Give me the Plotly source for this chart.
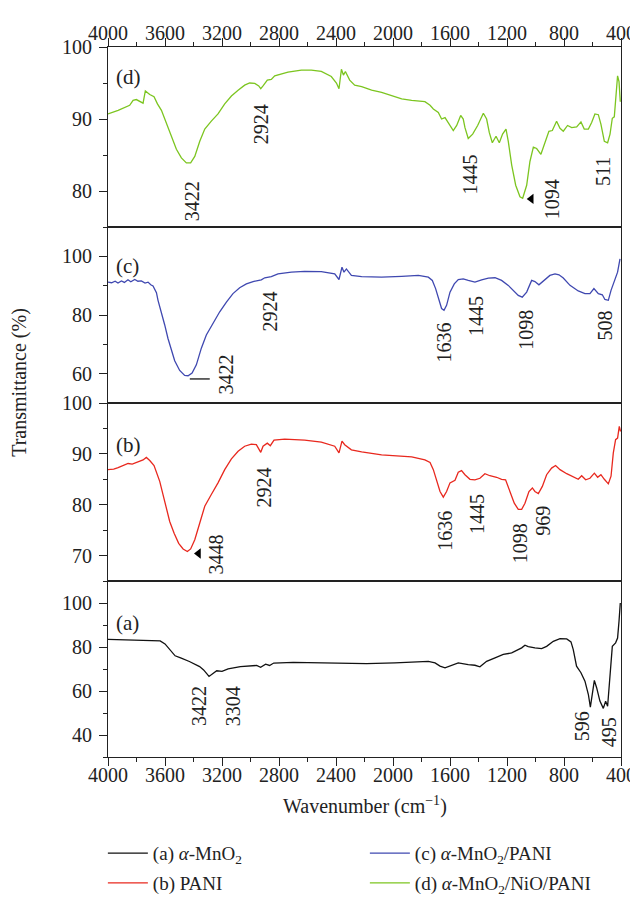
import plotly.graph_objects as go
from plotly.subplots import make_subplots

# ---------------- data ----------------
wn_d = [4000, 3929, 3848, 3824, 3801, 3777, 3754, 3738, 3707, 3677, 3653, 3625, 3590, 3555, 3520, 3485, 3450, 3420,
        3391, 3356, 3321, 3275, 3228, 3181, 3134, 3087, 3041, 3006, 2970, 2942, 2928, 2912, 2882, 2854, 2830, 2737,
        2643, 2573, 2503, 2433, 2397, 2379, 2362, 2348, 2334, 2304, 2269, 2220, 2150, 2080, 2009, 1939, 1869, 1776,
        1740, 1717, 1682, 1659, 1635, 1607, 1577, 1553, 1525, 1507, 1495, 1472, 1441, 1406, 1366, 1343, 1324, 1303,
        1277, 1254, 1231, 1207, 1191, 1167, 1139, 1109, 1090, 1062, 1039, 1015, 992, 962, 934, 906, 882, 852, 828,
        805, 775, 746, 711, 681, 658, 629, 606, 583, 559, 541, 517, 494, 477, 461, 447, 435, 424, 414, 405]
t_d = [90.7, 91.2, 91.9, 92.6, 92.7, 92.5, 92.2, 93.9, 93.4, 93.1, 92.1, 91.2, 89.3, 87.4, 85.8, 84.6, 83.9, 83.9,
       84.8, 86.9, 88.6, 89.7, 90.7, 92.1, 93.2, 94.0, 94.7, 95.0, 94.95, 94.6, 94.2, 94.6, 95.4, 95.5, 96.0, 96.5,
       96.8, 96.8, 96.6, 95.9, 95.0, 94.2, 96.9, 96.1, 96.6, 95.4, 94.7, 94.5, 94.0, 93.7, 93.3, 92.8, 92.6, 92.4,
       91.9, 91.4, 90.9, 90.0, 90.2, 89.3, 88.4, 89.1, 90.5, 90.0, 88.8, 87.3, 87.9, 89.1, 90.8, 90.0, 88.1, 86.7,
       87.6, 86.7, 87.9, 88.6, 86.9, 83.6, 80.8, 79.2, 79.0, 80.8, 84.1, 86.1, 85.9, 85.1, 86.7, 88.3, 88.4, 89.7,
       88.7, 88.3, 89.1, 88.8, 88.9, 89.6, 88.6, 88.6, 89.5, 90.7, 90.6, 89.3, 86.9, 86.7, 87.9, 90.1, 90.3, 93.5,
       96.0, 95.2, 92.4]

wn_c = [4000, 3975, 3950, 3930, 3906, 3885, 3860, 3840, 3812, 3790, 3766, 3740, 3719, 3700, 3684, 3670, 3660, 3649,
        3625, 3602, 3579, 3555, 3532, 3497, 3462, 3438, 3410, 3380,
        3345, 3310, 3263, 3216, 3169, 3123, 3076, 3029, 2982, 2942, 2924, 2900, 2854, 2807, 2713, 2620, 2503, 2409,
        2379, 2358, 2344, 2327, 2292, 2220, 2080, 1939, 1822, 1752, 1724, 1701, 1677, 1659, 1642, 1624, 1600, 1570,
        1542, 1507, 1472, 1425, 1378, 1331, 1284, 1238, 1191, 1149, 1121, 1093, 1062, 1027, 1004, 976, 938, 899, 863,
        835, 805, 758, 700, 653, 618, 590, 559, 531, 513, 489, 470, 447, 424, 407]
t_c = [91.2, 91.0, 91.5, 90.9, 91.6, 91.1, 92.0, 91.3, 92.1, 91.5, 91.6, 90.9, 91.2, 90.3, 89.9, 88.2, 87.6, 85.0,
       81.1, 76.6, 72.0, 68.1, 64.4, 61.1, 59.4, 59.3, 60.2, 63.0,
       68.7, 73.2, 77.1, 81.1, 84.4, 87.3, 89.3, 90.6, 91.4, 91.8, 92.0, 92.7, 93.1, 94.0, 94.6, 94.9, 94.8, 94.0,
       92.1, 96.3, 94.6, 95.7, 93.5, 93.1, 92.9, 93.2, 93.5, 92.9, 91.8, 89.0, 85.0, 82.2, 81.6, 83.3, 87.8, 90.6,
       92.1, 92.3, 91.8, 91.2, 92.0, 92.6, 92.7, 91.8, 90.1, 88.0, 86.7, 86.1, 87.8, 91.8, 91.4, 90.3, 92.0, 93.5, 94.0,
       93.7, 92.6, 90.1, 88.2, 87.3, 87.3, 89.0, 87.3, 86.9, 85.3, 85.0, 88.4, 91.8, 94.6, 99.1]

wn_b = [4000, 3960, 3929, 3900, 3859, 3830, 3789, 3754, 3731, 3707, 3677, 3653, 3637, 3614, 3590, 3567, 3536, 3504,
        3473, 3443, 3420,
        3391, 3356, 3321, 3275, 3228, 3181, 3134, 3087, 3041, 2994, 2959, 2928, 2912, 2882, 2861, 2835, 2760, 2620,
        2503, 2409, 2379, 2358, 2339, 2292, 2220, 2080, 1939, 1869, 1776, 1740, 1717, 1694, 1670, 1647, 1624, 1600,
        1565, 1542, 1519, 1495, 1460, 1425, 1390, 1355, 1320, 1273, 1238, 1210, 1179, 1149, 1121, 1097, 1074, 1046,
        1022, 1004, 980, 952, 922, 887, 859, 828, 781, 735, 700, 676, 648, 618, 587, 564, 541, 517, 489, 470, 454,
        438, 424, 412, 403]
t_b = [86.9, 87.0, 87.3, 87.6, 88.1, 88.0, 88.5, 88.8, 89.3, 88.7, 87.7, 85.9, 84.6, 82.0, 79.3, 76.7, 74.4, 72.4,
       71.3, 70.8, 71.3,
       73.1, 76.4, 79.7, 82.0, 84.3, 86.9, 89.0, 90.5, 91.5, 91.9, 91.8, 90.3, 91.5, 92.1, 91.6, 92.7, 92.9, 92.7,
       92.3, 91.5, 90.2, 92.5, 91.8, 90.8, 90.4, 89.8, 89.5, 89.4, 88.8, 88.3, 86.9, 84.9, 82.6, 81.5, 82.6, 84.3,
       84.8, 86.4, 86.7, 85.9, 85.0, 84.9, 85.2, 86.1, 85.7, 85.4, 85.0, 84.9, 82.6, 80.3, 79.1, 79.1, 80.3, 82.6,
       83.3, 82.6, 82.2, 83.6, 85.9, 87.2, 87.7, 86.9, 86.1, 85.4, 85.0, 85.7, 84.9, 85.2, 86.2, 85.4, 85.9, 85.0,
       84.1, 85.6, 90.2, 92.8, 93.1, 95.4, 94.4]

wn_a = [4000, 3814, 3634, 3600, 3557, 3529, 3486, 3429, 3357, 3329, 3291, 3266, 3237, 3200, 3157, 3071, 2957, 2929,
        2894, 2866, 2837, 2700, 2471, 2186, 1986, 1752, 1705, 1670, 1635, 1600, 1542, 1472, 1425, 1390, 1343, 1284,
        1226, 1167, 1121, 1097, 1074, 1051, 1004, 957, 922, 875, 828, 781, 751, 735, 712, 681, 653, 629, 615, 601,
        587, 571, 548, 524, 508, 494, 477, 461, 438, 424, 414, 405]
t_a = [83.5, 83.1, 82.8, 81.4, 77.9, 76.0, 74.9, 73.4, 71.1, 69.6, 66.6, 67.8, 69.2, 68.9, 70.1, 71.1, 71.6, 70.8,
       72.2, 71.6, 72.7, 73.0, 72.8, 72.4, 72.8, 73.5, 72.8, 71.3, 70.5, 71.3, 72.8, 72.0, 71.7, 71.0, 73.5, 75.1,
       76.6, 77.3, 78.8, 79.6, 80.8, 80.2, 79.6, 79.3, 80.3, 82.6, 83.8, 83.7, 82.3, 78.8, 71.3, 68.3, 64.5, 58.4,
       52.7, 59.9, 64.8, 61.5, 55.4, 52.1, 55.4, 53.1, 66.0, 80.3, 81.9, 84.1, 91.7, 100.0]

series_names = ["(a) <i>α</i>-MnO<sub>2</sub>", "(b) PANI",
                "(c) <i>α</i>-MnO<sub>2</sub>/PANI", "(d) <i>α</i>-MnO<sub>2</sub>/NiO/PANI"]
series_colors = ["#111111", "#e8281e", "#3f48b0", "#7cc520"]

x_ticks = [4000, 3600, 3200, 2800, 2400, 2000, 1600, 1200, 800, 400]

# peak labels: (panel row, text, wavenumber position, transmittance position)
peak_rows = [1, 1, 1, 1, 1, 2, 2, 2, 2, 2, 2, 3, 3, 3, 3, 3, 3, 4, 4, 4, 4]
peak_texts = ["3422", "2924", "1445", "1094", "511",
              "3422", "2924", "1636", "1445", "1098", "508",
              "3448", "2924", "1636", "1445", "1098", "969",
              "3422", "3304", "596", "495"]
peak_x = [3410, 2924, 1460, 887, 531,
          3169, 2865, 1640, 1413, 1069, 513,
          3239, 2905, 1635, 1406, 1109, 945,
          3357, 3123, 676, 484]
peak_y = [78.6, 89.3, 82.3, 78.8, 82.7,
          59.9, 81.1, 70.7, 79.5, 74.9, 76.4,
          70.3, 83.4, 74.9, 78.1, 72.4, 76.9,
          53.0, 53.0, 43.8, 41.3]

panel_tags = ["(d)", "(c)", "(b)", "(a)"]
panel_tag_y = [95.9, 96.8, 91.8, 91.1]

# ---------------- figure ----------------
FONT = "Liberation Serif"
INK = "#222"
FS = 20
fig = make_subplots(rows=4, cols=1, shared_xaxes=True, vertical_spacing=0,
                    row_heights=[180, 176, 178, 176])

data_by_row = {4: (wn_a, t_a, 0), 3: (wn_b, t_b, 1), 2: (wn_c, t_c, 2), 1: (wn_d, t_d, 3)}
legend_of = {0: "legend", 2: "legend", 1: "legend2", 3: "legend2"}
for row, (xs, ys, k) in data_by_row.items():
    fig.add_trace(go.Scatter(x=xs, y=ys, mode="lines", name=series_names[k],
                             line=dict(color=series_colors[k], width=1.3),
                             legend=legend_of[k], legendrank=k), row=row, col=1)

# arrow-head markers
fig.add_trace(go.Scatter(x=[1030], y=[78.9], mode="markers", showlegend=False,
                         marker=dict(symbol="triangle-left", size=9, color="black")), row=1, col=1)
fig.add_trace(go.Scatter(x=[3365], y=[70.4], mode="markers", showlegend=False,
                         marker=dict(symbol="triangle-left", size=9, color="black")), row=3, col=1)
fig.add_shape(type="line", x0=3426, x1=3286, y0=58.2, y1=58.2,
              line=dict(color="black", width=1.2), row=2, col=1)

for r, txt, px, py in zip(peak_rows, peak_texts, peak_x, peak_y):
    fig.add_annotation(x=px, y=py, text=txt, textangle=-90, showarrow=False,
                       xanchor="center", yanchor="middle",
                       font=dict(family=FONT, size=FS, color=INK), row=r, col=1)

for i, (tag, ty) in enumerate(zip(panel_tags, panel_tag_y)):
    fig.add_annotation(x=3955, y=ty, text=tag, showarrow=False, xanchor="left", yanchor="middle",
                       font=dict(family=FONT, size=FS + 1, color=INK), row=i + 1, col=1)

yranges = [[75, 100], [50, 110], [65, 100], [30, 110]]
ydt = [10, 20, 10, 20]
yt0 = [80, 60, 70, 40]
ymin = [5, 10, 5, 10]
for i in range(4):
    fig.update_yaxes(range=yranges[i], tickmode="linear", tick0=yt0[i], dtick=ydt[i],
                     ticks="outside", ticklen=8, tickwidth=1, tickcolor=INK, ticklabelstandoff=3,
                     minor=dict(ticks="outside", ticklen=4, dtick=ymin[i], tick0=yt0[i], tickcolor=INK),
                     showline=True, linecolor=INK, linewidth=1.2, mirror=True, automargin=False,
                     showgrid=False, zeroline=False,
                     tickfont=dict(family=FONT, size=FS, color=INK), row=i + 1, col=1)

for i in range(4):
    kw = dict(range=[4000, 400], showline=True, linecolor=INK, linewidth=1.2, mirror=True,
              showgrid=False, zeroline=False, tickmode="array", tickvals=x_ticks, automargin=False,
              tickfont=dict(family=FONT, size=FS, color=INK))
    if i == 0:
        kw.update(side="top", showticklabels=True, ticks="outside", ticklen=8, tickcolor=INK,
                  ticklabelstandoff=-10,
                  minor=dict(ticks="outside", ticklen=4, dtick=200, tick0=4000, tickcolor=INK))
    elif i == 3:
        kw.update(showticklabels=True, ticks="outside", ticklen=8, tickcolor=INK,
                  ticklabelstandoff=-8,
                  minor=dict(ticks="outside", ticklen=4, dtick=200, tick0=4000, tickcolor=INK))
    else:
        kw.update(showticklabels=False, ticks="")
    fig.update_xaxes(row=i + 1, col=1, **kw)

fig.add_annotation(xref="paper", yref="paper", x=0.5, y=-0.068, xanchor="center", yanchor="middle",
                   text="Wavenumber (cm<sup>−1</sup>)", showarrow=False,
                   font=dict(family=FONT, size=FS, color=INK))
fig.add_annotation(xref="paper", yref="paper", x=-0.1715, y=0.527, xanchor="center", yanchor="middle",
                   textangle=-90, text="Transmittance (%)", showarrow=False,
                   font=dict(family=FONT, size=FS, color=INK))

leg_common = dict(orientation="h", x=-0.01, xanchor="left", yanchor="middle",
                  entrywidth=207, entrywidthmode="pixels", traceorder="normal",
                  font=dict(family=FONT, size=FS - 1, color=INK), itemwidth=40,
                  bgcolor="rgba(0,0,0,0)")
fig.update_layout(
    width=630, height=915,
    margin=dict(l=100, r=17, t=39, b=166, autoexpand=False),
    paper_bgcolor="white", plot_bgcolor="white",
    showlegend=True,
    legend=dict(y=-0.1355, **leg_common),
    legend2=dict(y=-0.1775, **leg_common),
)

fig.write_html("out.html")
